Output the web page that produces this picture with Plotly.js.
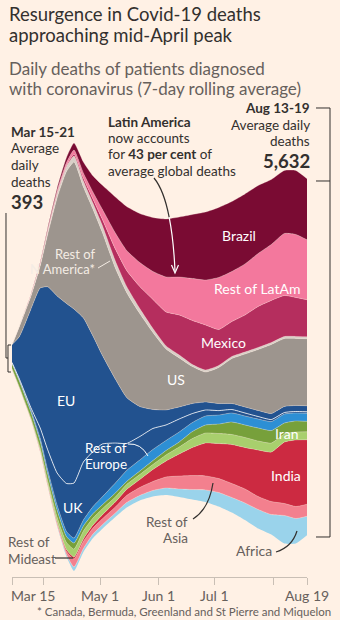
<!DOCTYPE html>
<html><head><meta charset="utf-8">
<script src="https://cdn.plot.ly/plotly-3.0.1.min.js"></script>
<style>html,body{margin:0;padding:0;background:#fff1e5;}#chart{width:340px;height:620px;}</style>
</head><body><div id="chart"></div>
<script>
// ---- data (daily deaths, 7-day rolling average) ----
const dates = ['2020-03-15','2020-03-19','2020-03-25','2020-03-30','2020-04-03','2020-04-08','2020-04-13','2020-04-17','2020-04-22','2020-04-27','2020-05-02','2020-05-09','2020-05-15','2020-05-22','2020-05-29','2020-06-05','2020-06-12','2020-06-19','2020-06-26','2020-07-03','2020-07-10','2020-07-17','2020-07-24','2020-07-31','2020-08-07','2020-08-13','2020-08-19'];
const brazil      = [0,0,8,16,32,47,79,111,174,253,379,569,695,774,853,916,948,1011,1074,1106,1106,1106,1074,1027,995,1011,964];
const restLatAm   = [0,0,8,16,16,32,47,63,79,111,158,253,316,379,442,553,600,664,711,822,790,806,837,885,980,995,948];
const mexico      = [0,0,0,0,8,16,16,32,47,63,95,190,253,348,458,537,632,695,711,569,553,585,648,664,648,616,585];
const restNAmerica= [0,8,16,32,47,63,79,95,95,95,111,111,95,79,63,47,47,32,32,32,32,32,32,32,32,32,32];
const us          = [0,166,205,348,830,1548,2086,2323,2070,2007,1943,1754,1659,1469,1217,964,774,585,474,569,711,837,964,1090,1074,1059,1059];
const eu          = [282,679,1548,2212,2575,2797,2844,2749,2275,1833,1406,1011,727,474,300,237,190,158,126,111,95,95,95,95,95,95,95];
const uk          = [8,16,32,158,316,506,758,869,916,869,837,632,427,371,332,245,205,142,95,71,55,47,40,32,24,24,24];
const restEurope  = [8,16,32,47,63,79,79,79,95,111,126,158,174,174,174,158,158,142,142,142,142,142,142,142,142,126,126];
const iran        = [79,95,95,111,111,111,95,95,79,71,63,63,47,55,63,71,79,111,126,150,198,198,205,198,174,174,166];
const restMideast = [5,8,16,32,47,79,111,126,126,111,95,79,79,79,79,95,111,142,158,158,158,158,142,142,126,126,126];
const india       = [0,0,0,3,8,16,32,32,40,47,63,79,95,126,190,253,348,442,521,553,616,656,735,782,972,1051,1019];
const restAsia    = [8,8,11,21,24,32,47,126,111,95,95,95,111,126,142,174,205,221,221,221,221,221,205,205,190,190,190];
const africa      = [3,3,5,8,8,16,32,63,55,63,63,63,79,79,95,111,126,158,190,221,237,269,300,316,442,395,300];

const tickDates  = ['2020-03-15','2020-04-01','2020-05-01','2020-06-01','2020-07-01','2020-08-01','2020-08-19'];
const labelDates = ['2020-03-15','2020-05-01','2020-06-01','2020-07-01','2020-08-19'];
const labelTexts = ['Mar 15','May 1','Jun 1','Jul 1','Aug 19'];

// ---- layout geometry ----
const W = 340, H = 620;
const M = {l: 12, r: 33, t: 118, b: 43};
const PW = W - M.l - M.r, PH = H - M.t - M.b;
const CENTER_PX = 357;          // stream centre line (page px)
const DEATHS_PER_PX = 15.8;
const px = x => (x - M.l) / PW;
const py = y => (H - M.b - y) / PH;

const FONT = "Lato, 'Noto Sans', sans-serif";
const DARK = '#33302e', GREY = '#66605c', CREAM = '#fff1e5';

// layers bottom -> top
const layers = [
  ['Africa', africa, '#9ad3eb'],
  ['Rest of Asia', restAsia, '#f3808e'],
  ['India', india, '#cc2a41'],
  ['Rest of Mideast', restMideast, '#a8cf6d'],
  ['Iran', iran, '#77a03b'],
  ['Rest of Europe', restEurope, '#2d8fd4'],
  ['UK', uk, '#22528f'],
  ['EU', eu, '#22528f'],
  ['US', us, '#9d958e'],
  ['Rest of N America', restNAmerica, '#d8cfc7'],
  ['Mexico', mexico, '#b52e5e'],
  ['Rest of LatAm', restLatAm, '#f3789d'],
  ['Brazil', brazil, '#7a0b33']
];
const totals = dates.map((d, i) => layers.reduce((s, l) => s + l[1][i], 0));
const baseline = totals.map(t => -t / 2);   // silhouette offset

const traces = [{
  x: dates, y: baseline, type: 'scatter', mode: 'lines', stackgroup: 's',
  line: {width: 0, shape: 'spline', smoothing: 0.5}, fillcolor: 'rgba(0,0,0,0)',
  hoverinfo: 'skip', showlegend: false
}];
layers.forEach(([name, vals, col]) => {
  traces.push({
    x: dates, y: vals, name, type: 'scatter', mode: 'lines', stackgroup: 's',
    line: {width: name === 'UK' ? 0.9 : 0.5, color: name === 'UK' ? 'rgba(255,255,255,0.85)' : 'rgba(255,241,229,0.55)', shape: 'spline', smoothing: 0.5},
    fillcolor: col, hoverinfo: 'skip', showlegend: false
  });
});

const ann = [];
function t(x, y, s, o = {}) {
  ann.push(Object.assign({
    xref: 'paper', yref: 'paper', x: px(x), y: py(y), text: s, showarrow: false,
    xanchor: 'left', yanchor: 'middle',
    font: {family: FONT, size: 14, color: DARK}
  }, o));
}
const f = (size, color) => ({family: FONT, size, color});

t(7, 14, 'Resurgence in Covid-19 deaths', {font: f(18.5, DARK)});
t(7, 35, 'approaching mid-April peak', {font: f(18.5, DARK)});
t(7, 68, 'Daily deaths of patients diagnosed', {font: f(17, GREY)});
t(7, 89, 'with coronavirus (7-day rolling average)', {font: f(17, GREY)});

t(9, 131.5, '<b>Mar 15-21</b>', {font: f(13.5, DARK)});
t(9, 148.5, 'Average', {font: f(13.5, DARK)});
t(9, 165, 'daily', {font: f(13.5, DARK)});
t(9, 181.5, 'deaths', {font: f(13.5, DARK)});
t(9, 202, '<b>393</b>', {font: f(18.5, DARK)});

t(106, 121.5, '<b>Latin America</b>', {font: f(13.5, DARK)});
t(106, 138, 'now accounts', {font: f(13.5, DARK)});
t(106, 154, 'for <b>43 per cent</b> of', {font: f(13.5, DARK)});
t(106, 170.5, 'average global deaths', {font: f(13.5, DARK)});

t(312, 108, '<b>Aug 13-19</b>', {xanchor: 'right', font: f(13.5, DARK)});
t(312, 125, 'Average daily', {xanchor: 'right', font: f(13.5, DARK)});
t(312, 141, 'deaths', {xanchor: 'right', font: f(13.5, DARK)});
t(312, 160.5, '<b>5,632</b>', {xanchor: 'right', font: f(18.5, DARK)});

// in-stream labels
const WH = '#ffffff';
t(239, 235, 'Brazil', {xanchor: 'center', font: f(14, WH)});
t(257, 288, 'Rest of LatAm', {xanchor: 'center', font: f(14, WH)});
t(223, 342, 'Mexico', {xanchor: 'center', font: f(14, WH)});
t(176, 379, 'US', {xanchor: 'center', font: f(14, WH)});
t(66, 400, 'EU', {xanchor: 'center', font: f(14, WH)});
t(106, 447.5, 'Rest of', {xanchor: 'center', font: f(13.5, WH)});
t(106, 464, 'Europe', {xanchor: 'center', font: f(13.5, WH)});
t(73, 507, 'UK', {xanchor: 'center', font: f(14, WH)});
t(97, 253.5, 'Rest of', {xanchor: 'right', font: f(13, '#f4ece4')});
t(97, 268.5, 'N America*', {xanchor: 'right', font: f(13, '#f4ece4')});
t(287, 433, 'Iran', {xanchor: 'center', font: f(14, WH)});
t(286, 475, 'India', {xanchor: 'center', font: f(14, WH)});

// outside labels
t(190, 521.5, 'Rest of', {xanchor: 'right', font: f(13.5, GREY)});
t(190, 538, 'Asia', {xanchor: 'right', font: f(13.5, GREY)});
t(254, 550, 'Africa', {xanchor: 'center', font: f(14, GREY)});
t(6, 542, 'Rest of', {font: f(13.5, GREY)});
t(6, 558.5, 'Mideast', {font: f(13.5, GREY)});

// x tick labels
labelDates.forEach((d, i) => {
  ann.push({xref: 'x', yref: 'paper', x: d, y: py(595), text: labelTexts[i], showarrow: false,
    xanchor: i === 0 ? 'left' : 'center', xshift: i === 0 ? -3 : 0, yanchor: 'middle',
    font: f(14, GREY)});
});
t(35, 611, '* Canada, Bermuda, Greenland and St Pierre and Miquelon', {font: f(11.5, GREY)});

// shapes (leader lines, brackets)
const P = (x, y) => px(x).toFixed(5) + ',' + py(y).toFixed(5);
const shapes = [];
function path(d, color, width) {
  shapes.push({type: 'path', xref: 'paper', yref: 'paper', path: d, line: {color, width: width || 1}, layer: 'above'});
}
// left bracket
path('M' + P(6, 213) + ' L' + P(6, 358) + ' L' + P(8, 358), DARK, 1);
path('M' + P(11, 345) + ' L' + P(8, 345) + ' L' + P(8, 372) + ' L' + P(11, 372), DARK, 1);
// right bracket
path('M' + P(316, 108) + ' L' + P(330, 108) + ' L' + P(330, 537) + ' L' + P(316, 537), DARK, 1);
path('M' + P(316, 181) + ' L' + P(330, 181), DARK, 1);
// Latin America arrow
path('M' + P(154, 178) + ' Q' + P(163.9, 190.1) + ' ' + P(169.2, 217.3), DARK, 1.2);
path('M' + P(169.2, 217.3) + ' Q' + P(173.6, 239.6) + ' ' + P(175, 271), '#ffffff', 1.2);
path('M' + P(171.5, 265) + ' L' + P(175, 273) + ' L' + P(178.5, 265), '#ffffff', 1.2);
// Rest of N America leader
path('M' + P(98, 268) + ' L' + P(110, 261), '#f4ece4', 1);
// Rest of Europe leader
path('M' + P(128, 444) + ' Q' + P(141, 443) + ' ' + P(148, 456), '#ffffff', 1);
// Rest of Asia leader
path('M' + P(193, 519) + ' Q' + P(209, 509) + ' ' + P(213, 483), DARK, 1.2);
// Africa leader
path('M' + P(276, 552) + ' Q' + P(292, 547) + ' ' + P(297, 531), DARK, 1.2);
// Rest of Mideast leader
path('M' + P(55, 558) + ' L' + P(73, 558), DARK, 1.2);

const yMin = -(H - M.b - CENTER_PX) * DEATHS_PER_PX;
const yMax = (CENTER_PX - M.t) * DEATHS_PER_PX;

const layout = {
  width: W, height: H, margin: M,
  paper_bgcolor: CREAM, plot_bgcolor: CREAM,
  showlegend: false,
  xaxis: {type: 'date', range: ['2020-03-15', '2020-08-19'], tickvals: tickDates, showticklabels: false,
    ticks: 'outside', ticklen: 7, tickcolor: '#c9bfb5', tickwidth: 1,
    showline: true, linecolor: '#c9bfb5', linewidth: 1, showgrid: false, zeroline: false, fixedrange: true},
  yaxis: {range: [yMin, yMax], visible: false, fixedrange: true},
  annotations: ann, shapes: shapes,
  font: {family: FONT}
};
Plotly.newPlot('chart', traces, layout, {displayModeBar: false, staticPlot: true});
</script></body></html>
